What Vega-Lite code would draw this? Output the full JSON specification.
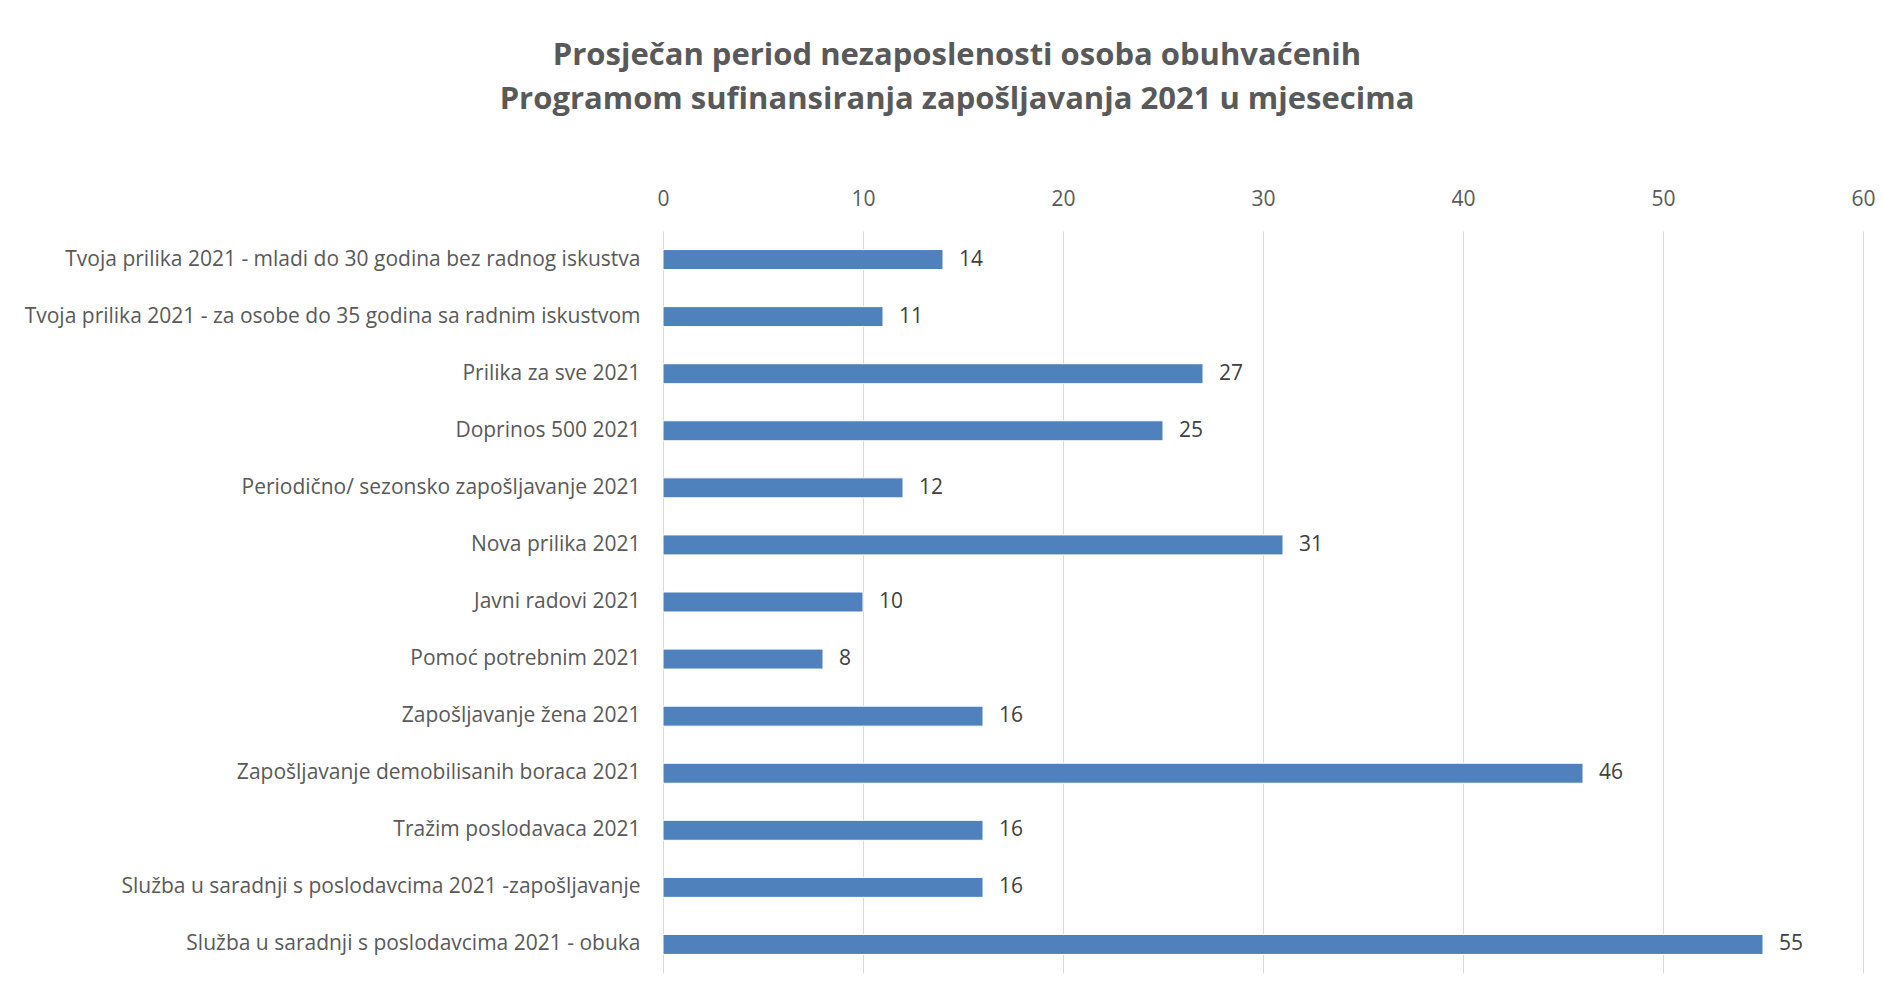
{
  "$schema": "https://vega.github.io/schema/vega-lite/v6.json",
  "width": 1200,
  "height": 742,
  "autosize": {"type": "none"},
  "padding": {"left": 663, "top": 231, "right": 20, "bottom": 23},
  "background": "white",
  "config": {
    "font": "Open Sans",
    "view": {"stroke": null}
  },
  "title": {
    "text": ["Prosječan period nezaposlenosti osoba obuhvaćenih", "Programom sufinansiranja zapošljavanja 2021 u mjesecima"],
    "font": "Open Sans",
    "fontSize": 31,
    "fontWeight": "bold",
    "color": "#595959",
    "anchor": "middle",
    "frame": "group",
    "dx": -306,
    "offset": 72,
    "lineHeight": 44
  },
  "data": {
    "values": [
      {"program": "Tvoja prilika 2021 -  mladi do 30 godina bez radnog iskustva", "mjeseci": 14},
      {"program": "Tvoja prilika 2021 - za osobe do 35 godina sa radnim iskustvom", "mjeseci": 11},
      {"program": "Prilika za sve 2021", "mjeseci": 27},
      {"program": "Doprinos 500 2021 ", "mjeseci": 25},
      {"program": "Periodično/ sezonsko zapošljavanje 2021", "mjeseci": 12},
      {"program": "Nova prilika 2021", "mjeseci": 31},
      {"program": "Javni radovi 2021", "mjeseci": 10},
      {"program": "Pomoć potrebnim 2021", "mjeseci": 8},
      {"program": "Zapošljavanje žena 2021", "mjeseci": 16},
      {"program": "Zapošljavanje demobilisanih boraca 2021", "mjeseci": 46},
      {"program": "Tražim poslodavaca 2021", "mjeseci": 16},
      {"program": "Služba u saradnji s poslodavcima 2021 -zapošljavanje", "mjeseci": 16},
      {"program": "Služba u saradnji s poslodavcima 2021 - obuka", "mjeseci": 55}
    ]
  },
  "encoding": {
    "y": {
      "field": "program",
      "type": "nominal",
      "sort": null,
      "scale": {"paddingInner": 0.65, "paddingOuter": 0.325},
      "axis": {
        "title": null,
        "domain": false,
        "ticks": false,
        "labelPadding": 23,
        "labelFont": "Open Sans",
        "labelFontSize": 21,
        "labelColor": "#595959",
        "labelLimit": 800
      }
    },
    "x": {
      "field": "mjeseci",
      "type": "quantitative",
      "scale": {"domain": [0, 60], "nice": false},
      "axis": {
        "orient": "top",
        "title": null,
        "values": [0, 10, 20, 30, 40, 50, 60],
        "domain": false,
        "ticks": false,
        "grid": true,
        "gridColor": "#d9d9d9",
        "gridWidth": 1,
        "labelFlush": false,
        "labelPadding": 22,
        "labelFont": "Open Sans",
        "labelFontSize": 21,
        "labelColor": "#595959"
      }
    }
  },
  "layer": [
    {
      "mark": {"type": "bar", "color": "#4f81bd", "stroke": "white", "strokeWidth": 1}
    },
    {
      "mark": {"type": "text", "align": "left", "baseline": "middle", "dx": 16, "fontSize": 21, "font": "Open Sans", "color": "#404040"},
      "encoding": {"text": {"field": "mjeseci", "type": "quantitative"}}
    }
  ]
}
